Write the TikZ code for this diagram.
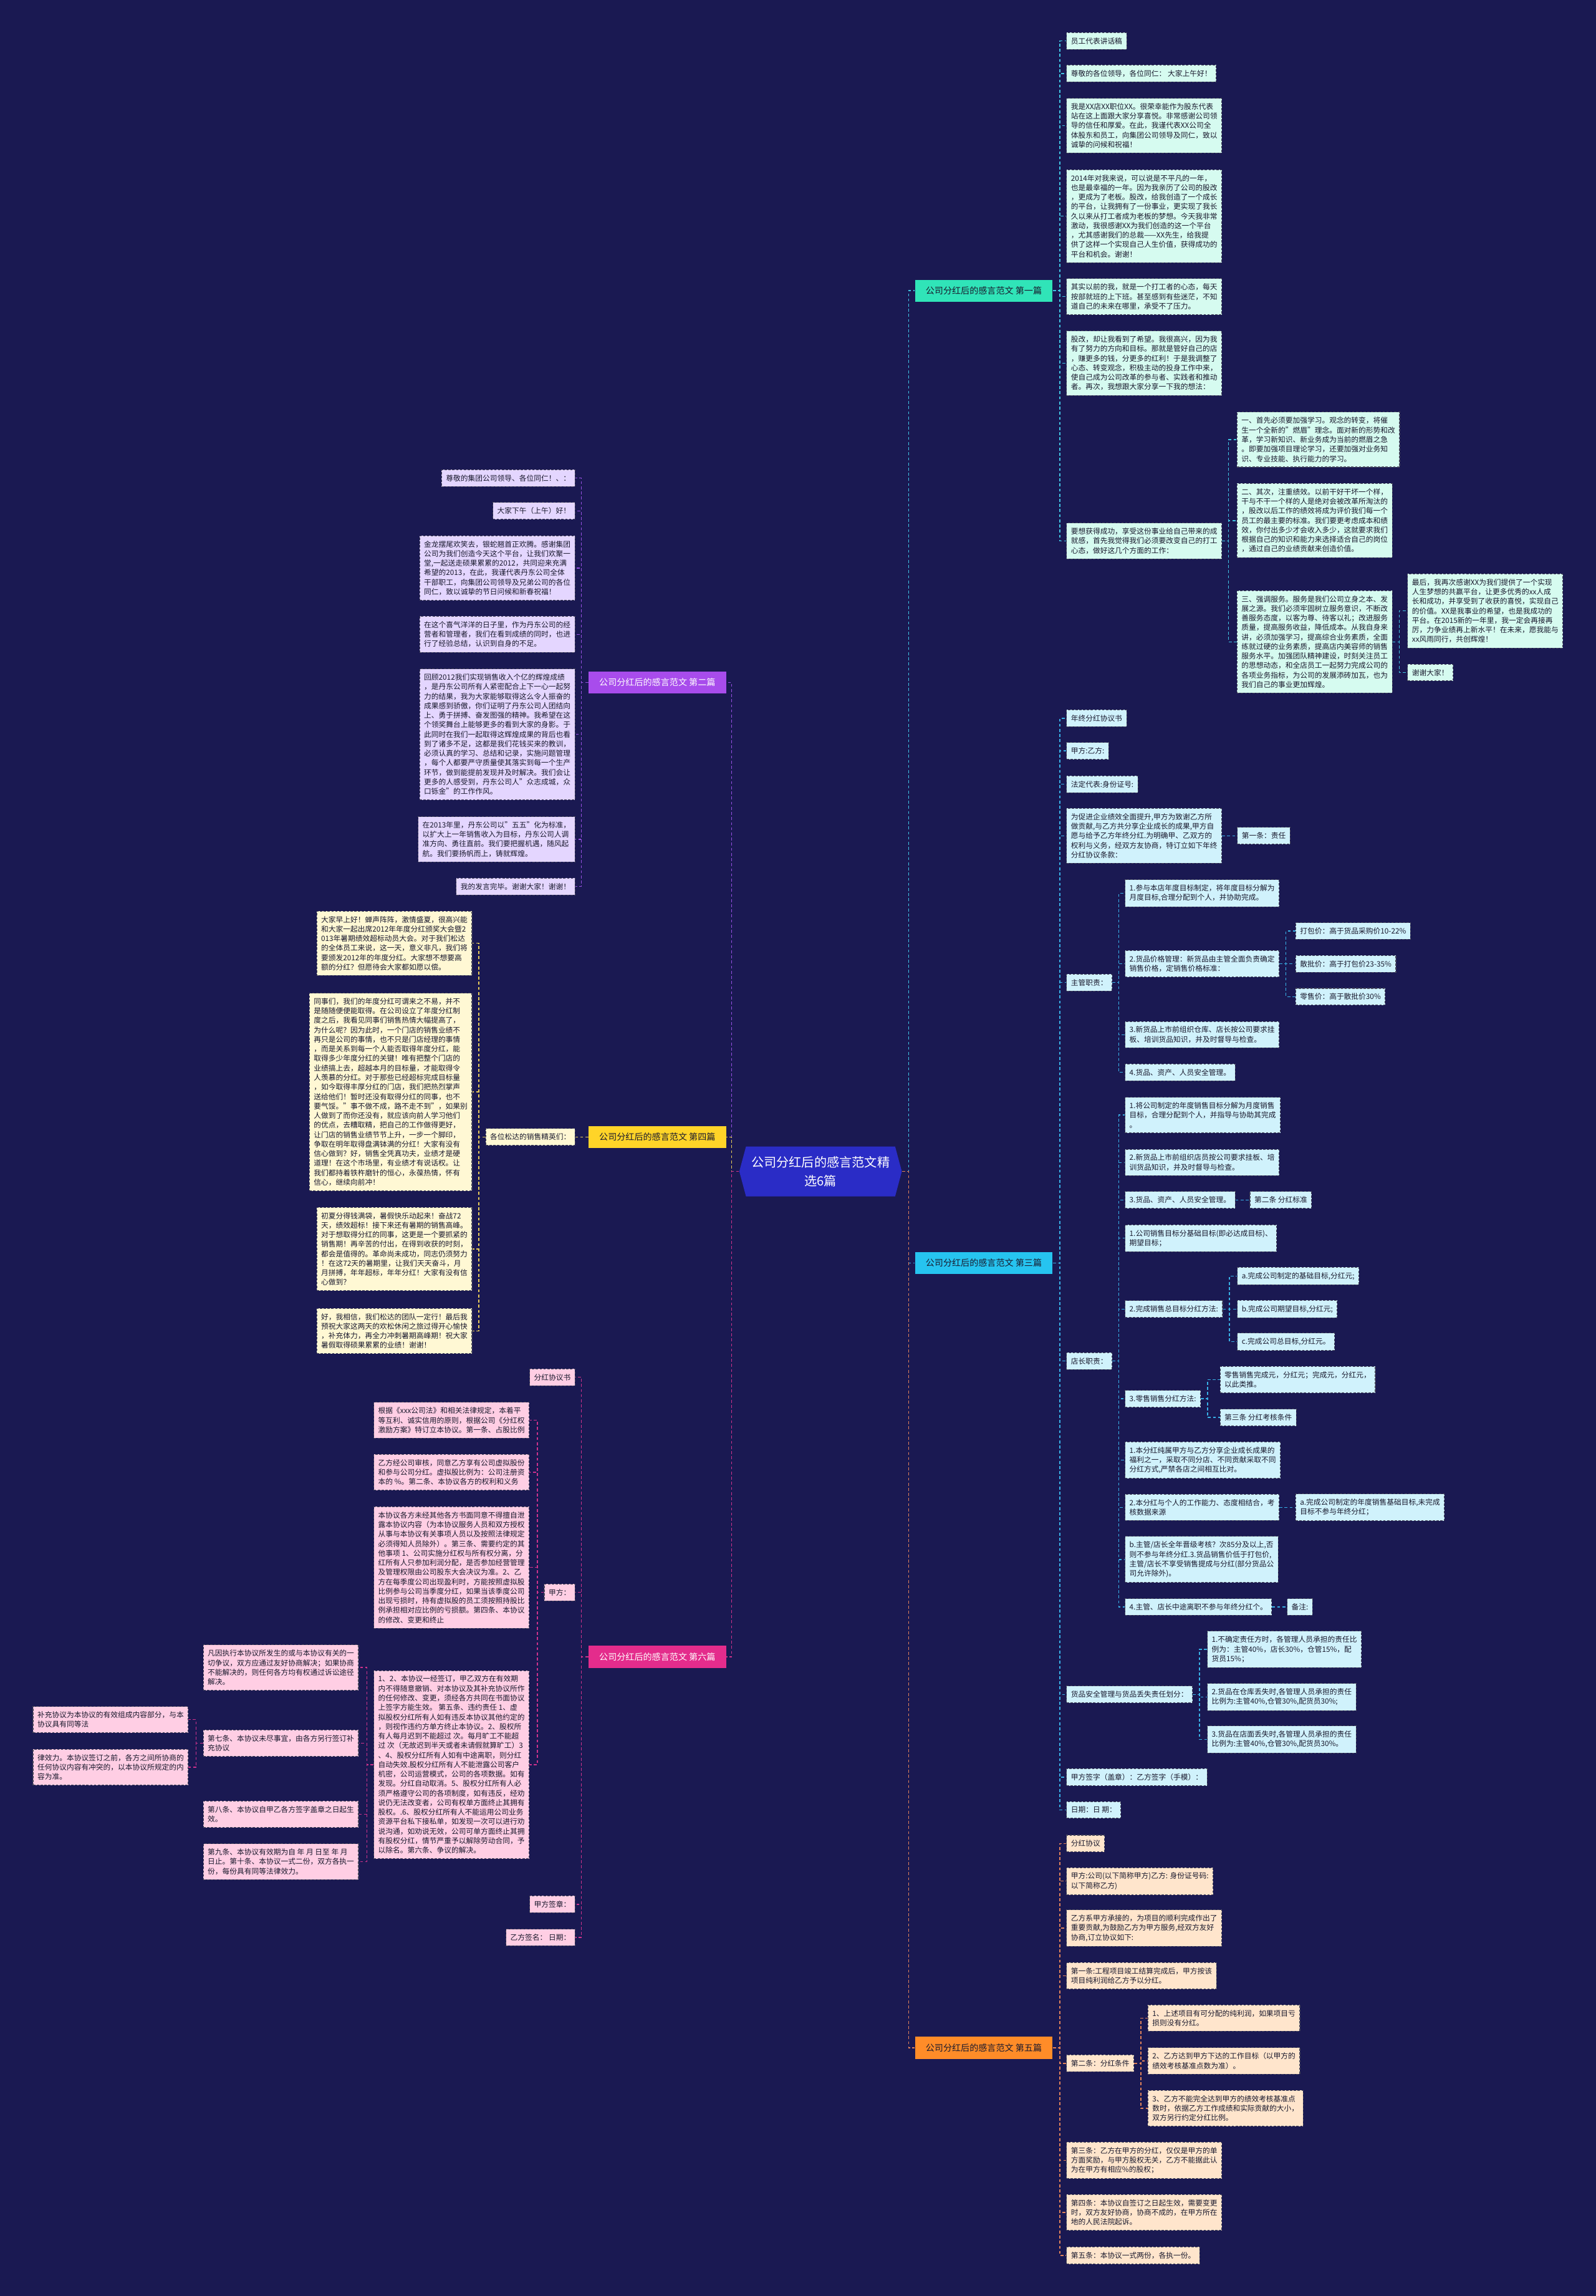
\documentclass[tikz,border=0pt]{standalone}
\usepackage{fontspec}
\setmainfont{Noto Sans CJK SC}
\usepackage{xcolor}
\usepackage{tikz}
\usetikzlibrary{positioning,shapes.symbols}
\definecolor{nightbg}{RGB}{26,25,82}
\definecolor{rootblue}{RGB}{42,44,198}
\definecolor{inkdark}{RGB}{25,25,45}
\definecolor{leafline}{RGB}{70,70,90}
\definecolor{mint}{RGB}{48,228,184}
\definecolor{mintlt}{RGB}{214,251,240}
\definecolor{mintline}{RGB}{64,196,226}
\definecolor{sky}{RGB}{38,196,240}
\definecolor{skylt}{RGB}{208,242,252}
\definecolor{skyline}{RGB}{56,176,230}
\definecolor{amber}{RGB}{255,140,40}
\definecolor{amberlt}{RGB}{255,229,204}
\definecolor{amberline}{RGB}{224,130,90}
\definecolor{violet}{RGB}{168,76,236}
\definecolor{violetlt}{RGB}{228,214,255}
\definecolor{violetline}{RGB}{150,80,225}
\definecolor{gold}{RGB}{255,212,40}
\definecolor{goldlt}{RGB}{255,248,212}
\definecolor{goldline}{RGB}{232,204,90}
\definecolor{rose}{RGB}{228,44,140}
\definecolor{roselt}{RGB}{255,206,228}
\definecolor{roseline}{RGB}{205,50,140}

\begin{document}
\begin{tikzpicture}[x=1pt, y=-1pt,
    leaf/.style={draw=leafline, dash pattern=on 1.6pt off 1pt, line width=0.45pt,
                 fill=#1, text=inkdark, font=\fontsize{5}{6.5}\selectfont,
                 align=left, inner xsep=3pt, inner ysep=3.4pt},
    rleaf/.style={leaf=#1, anchor=west},
    lleaf/.style={leaf=#1, anchor=east},
    branch/.style={fill=#1, font=\fontsize{6}{7}\selectfont,
                 minimum width=94pt, minimum height=15pt, inner sep=1pt},
    hub/.style={shape=signal, signal to=west and east, signal pointer angle=150,
                 fill=rootblue, text=white, font=\fontsize{8.6}{12.5}\selectfont,
                 align=center, minimum width=111pt, minimum height=34pt, inner sep=1pt},
    link/.style={draw=#1, dash pattern=on 2pt off 1.5pt, line width=0.6pt}
  ]
  \fill[nightbg] (0,0) rectangle (1090,1568);

  \node[hub] (root) at (560.5,800) {公司分红后的感言范文精\\选6篇};

  \node[branch=mint, text=inkdark] (p1) at (672,198.5) {公司分红后的感言范文 第一篇};
  \node[branch=violet, text=white] (p2) at (449,466) {公司分红后的感言范文 第二篇};
  \node[branch=sky, text=inkdark] (p3) at (672,862.5) {公司分红后的感言范文 第三篇};
  \node[branch=gold, text=inkdark] (p4) at (449,776.5) {公司分红后的感言范文 第四篇};
  \node[branch=amber, text=inkdark] (p5) at (672,1398.5) {公司分红后的感言范文 第五篇};
  \node[branch=rose, text=white] (p6) at (449,1131.5) {公司分红后的感言范文 第六篇};

  % 第一篇
  \node[rleaf=mintlt] (p1a) at (728.3,28) {员工代表讲话稿};
  \node[rleaf=mintlt] (p1b) at (728.3,50.2) {尊敬的各位领导，各位同仁： 大家上午好！};
  \node[rleaf=mintlt] (p1c) at (728.3,85.8) {我是XX店XX职位XX。很荣幸能作为股东代表\\站在这上面跟大家分享喜悦。非常感谢公司领\\导的信任和厚爱。在此，我谨代表XX公司全\\体股东和员工，向集团公司领导及同仁，致以\\诚挚的问候和祝福！};
  \node[rleaf=mintlt] (p1d) at (728.3,147.6) {2014年对我来说，可以说是不平凡的一年，\\也是最幸福的一年。因为我亲历了公司的股改\\，更成为了老板。股改，给我创造了一个成长\\的平台，让我拥有了一份事业，更实现了我长\\久以来从打工者成为老板的梦想。今天我非常\\激动，我很感谢XX为我们创造的这一个平台\\，尤其感谢我们的总裁——XX先生，给我提\\供了这样一个实现自己人生价值，获得成功的\\平台和机会。谢谢！};
  \node[rleaf=mintlt] (p1e) at (728.3,202.6) {其实以前的我，就是一个打工者的心态，每天\\按部就班的上下班。甚至感到有些迷茫，不知\\道自己的未来在哪里，承受不了压力。};
  \node[rleaf=mintlt] (p1f) at (728.3,248) {股改，却让我看到了希望。我很高兴，因为我\\有了努力的方向和目标。那就是管好自己的店\\，赚更多的钱，分更多的红利！于是我调整了\\心态、转变观念，积极主动的投身工作中来，\\使自己成为公司改革的参与者、实践者和推动\\者。再次，我想跟大家分享一下我的想法：};
  \node[rleaf=mintlt] (p1g) at (728.3,369.4) {要想获得成功，享受这份事业给自己带来的成\\就感，首先我觉得我们必须要改变自己的打工\\心态，做好这几个方面的工作：};
  \node[rleaf=mintlt] (p1g1) at (844.8,300.2) {一、首先必须要加强学习。观念的转变，将催\\生一个全新的"燃眉"理念。面对新的形势和改\\革，学习新知识、新业务成为当前的燃眉之急\\。即要加强项目理论学习，还要加强对业务知\\识、专业技能、执行能力的学习。};
  \node[rleaf=mintlt] (p1g2) at (844.8,355.5) {二、其次，注重绩效。以前干好干坏一个样，\\干与不干一个样的人是绝对会被改革所淘汰的\\，股改以后工作的绩效将成为评价我们每一个\\员工的最主要的标准。我们要更考虑成本和绩\\效，你付出多少才会收入多少，这就要求我们\\根据自己的知识和能力来选择适合自己的岗位\\，通过自己的业绩贡献来创造价值。};
  \node[rleaf=mintlt] (p1g3) at (844.8,438.3) {三、强调服务。服务是我们公司立身之本、发\\展之源。我们必须牢固树立服务意识，不断改\\善服务态度，以客为尊、待客以礼；改进服务\\质量，提高服务收益，降低成本。从我自身来\\讲，必须加强学习，提高综合业务素质，全面\\练就过硬的业务素质，提高店内美容师的销售\\服务水平。加强团队精神建设，时刻关注员工\\的思想动态，和全店员工一起努力完成公司的\\各项业务指标，为公司的发展添砖加瓦，也为\\我们自己的事业更加辉煌。};
  \node[rleaf=mintlt] (p1g3a) at (961.3,417.2) {最后，我再次感谢XX为我们提供了一个实现\\人生梦想的共赢平台，让更多优秀的xx人成\\长和成功，并享受到了收获的喜悦，实现自己\\的价值。XX是我事业的希望，也是我成功的\\平台。在2015新的一年里，我一定会再接再\\厉，力争业绩再上新水平！在未来，愿我能与\\xx风雨同行，共创辉煌！};
  \node[rleaf=mintlt] (p1g3b) at (961.3,459.3) {谢谢大家！};

  % 第三篇
  \node[rleaf=skylt] (p3a) at (728.3,490.5) {年终分红协议书};
  \node[rleaf=skylt] (p3b) at (728.3,512.8) {甲方:乙方:};
  \node[rleaf=skylt] (p3c) at (728.3,535.6) {法定代表:身份证号:};
  \node[rleaf=skylt] (p3d) at (728.3,570.8) {为促进企业绩效全面提升,甲方为致谢乙方所\\做贡献,与乙方共分享企业成长的成果,甲方自\\愿与给予乙方年终分红.为明确甲、乙双方的\\权利与义务，经双方友协商，特订立如下年终\\分红协议条款：};
  \node[rleaf=skylt] (p3d1) at (845,570.8) {第一条：责任};
  \node[rleaf=skylt] (p3e) at (728.3,671) {主管职责：};
  \node[rleaf=skylt] (p3e1) at (768.3,610) {1.参与本店年度目标制定，将年度目标分解为\\月度目标,合理分配到个人，并协助完成。};
  \node[rleaf=skylt] (p3e2) at (768.3,658.1) {2.货品价格管理：新货品由主管全面负责确定\\销售价格，定销售价格标准：};
  \node[rleaf=skylt] (p3e2a) at (884.8,635.8) {打包价：高于货品采购价10-22\%};
  \node[rleaf=skylt] (p3e2b) at (884.8,658.2) {散批价：高于打包价23-35\%};
  \node[rleaf=skylt] (p3e2c) at (884.8,680.7) {零售价：高于散批价30\%};
  \node[rleaf=skylt] (p3e3) at (768.3,706.6) {3.新货品上市前组织仓库、店长按公司要求挂\\板、培训货品知识，并及时督导与检查。};
  \node[rleaf=skylt] (p3e4) at (768.3,732.3) {4.货品、资产、人员安全管理。};
  \node[rleaf=skylt] (p3f) at (728.3,929.5) {店长职责：};
  \node[rleaf=skylt] (p3f1) at (768.3,761.5) {1.将公司制定的年度销售目标分解为月度销售\\目标，合理分配到个人，并指导与协助其完成\\。};
  \node[rleaf=skylt] (p3f2) at (768.3,793.9) {2.新货品上市前组织店员按公司要求挂板、培\\训货品知识，并及时督导与检查。};
  \node[rleaf=skylt] (p3f3) at (768.3,819.5) {3.货品、资产、人员安全管理。};
  \node[rleaf=skylt] (p3f3a) at (853.6,819.5) {第二条 分红标准};
  \node[rleaf=skylt] (p3f4) at (768.3,845.6) {1.公司销售目标分基础目标(即必达成目标)、\\期望目标；};
  \node[rleaf=skylt] (p3f5) at (768.3,894) {2.完成销售总目标分红方法:};
  \node[rleaf=skylt] (p3f5a) at (845,871.4) {a.完成公司制定的基础目标,分红元;};
  \node[rleaf=skylt] (p3f5b) at (845,894) {b.完成公司期望目标,分红元;};
  \node[rleaf=skylt] (p3f5c) at (845,916.3) {c.完成公司总目标,分红元。};
  \node[rleaf=skylt] (p3f6) at (768.3,955.2) {3.零售销售分红方法:};
  \node[rleaf=skylt] (p3f6a) at (833.2,942.2) {零售销售完成元，分红元；完成元，分红元，\\以此类推。};
  \node[rleaf=skylt] (p3f6b) at (833.2,968) {第三条 分红考核条件};
  \node[rleaf=skylt] (p3f7) at (768.3,997.1) {1.本分红纯属甲方与乙方分享企业成长成果的\\福利之一，采取不同分店、不同贡献采取不同\\分红方式,严禁各店之间相互比对。};
  \node[rleaf=skylt] (p3f8) at (768.3,1029.4) {2.本分红与个人的工作能力、态度相结合，考\\核数据来源};
  \node[rleaf=skylt] (p3f8a) at (884.8,1029.4) {a.完成公司制定的年度销售基础目标,未完成\\目标不参与年终分红；};
  \node[rleaf=skylt] (p3f9) at (768.3,1065) {b.主管/店长全年晋级考核？次85分及以上,否\\则不参与年终分红.3.货品销售价低于打包价,\\主管/店长不享受销售提成与分红(部分货品公\\司允许除外)。};
  \node[rleaf=skylt] (p3f10) at (768.3,1097.4) {4.主管、店长中途离职不参与年终分红个。};
  \node[rleaf=skylt] (p3f10a) at (879,1097.4) {备注:};
  \node[rleaf=skylt] (p3g) at (728.3,1157.2) {货品安全管理与货品丢失责任划分：};
  \node[rleaf=skylt] (p3g1) at (824.5,1126.4) {1.不确定责任方时，各管理人员承担的责任比\\例为：主管40\%，店长30\%，仓管15\%，配\\货员15\%；};
  \node[rleaf=skylt] (p3g2) at (824.5,1158.9) {2.货品在仓库丢失时,各管理人员承担的责任\\比例为:主管40\%,仓管30\%,配货员30\%;};
  \node[rleaf=skylt] (p3g3) at (824.5,1187.9) {3.货品在店面丢失时,各管理人员承担的责任\\比例为:主管40\%,仓管30\%,配货员30\%。};
  \node[rleaf=skylt] (p3h) at (728.3,1213.7) {甲方签字（盖章）：乙方签字（手模）：};
  \node[rleaf=skylt] (p3i) at (728.3,1236) {日期：日 期：};

  % 第五篇
  \node[rleaf=amberlt] (p5a) at (728.3,1259) {分红协议};
  \node[rleaf=amberlt] (p5b) at (728.3,1284.7) {甲方:公司(以下简称甲方)乙方: 身份证号码:\\以下简称乙方)};
  \node[rleaf=amberlt] (p5c) at (728.3,1316.7) {乙方系甲方承接的，为项目的顺利完成作出了\\重要贡献,为鼓励乙方为甲方服务,经双方友好\\协商,订立协议如下:};
  \node[rleaf=amberlt] (p5d) at (728.3,1349.3) {第一条:工程项目竣工结算完成后，甲方按该\\项目纯利润给乙方予以分红。};
  \node[rleaf=amberlt] (p5e) at (728.3,1409.1) {第二条：分红条件};
  \node[rleaf=amberlt] (p5e1) at (783.9,1378.2) {1、上述项目有可分配的纯利润，如果项目亏\\损则没有分红。};
  \node[rleaf=amberlt] (p5e2) at (783.9,1407.4) {2、乙方达到甲方下达的工作目标（以甲方的\\绩效考核基准点数为准）。};
  \node[rleaf=amberlt] (p5e3) at (783.9,1439.8) {3、乙方不能完全达到甲方的绩效考核基准点\\数时，依据乙方工作成绩和实际贡献的大小，\\双方另行约定分红比例。};
  \node[rleaf=amberlt] (p5f) at (728.3,1475.3) {第三条：乙方在甲方的分红，仅仅是甲方的单\\方面奖励，与甲方股权无关，乙方不能据此认\\为在甲方有相应\%的股权；};
  \node[rleaf=amberlt] (p5g) at (728.3,1511) {第四条：本协议自签订之日起生效，需要变更\\时，双方友好协商，协商不成的，在甲方所在\\地的人民法院起诉。};
  \node[rleaf=amberlt] (p5h) at (728.3,1540.3) {第五条：本协议一式两份，各执一份。};

  % 第二篇
  \node[lleaf=violetlt] (p2a) at (392.9,326.5) {尊敬的集团公司领导、各位同仁！、：};
  \node[lleaf=violetlt] (p2b) at (392.9,348.9) {大家下午（上午）好！};
  \node[lleaf=violetlt] (p2c) at (392.9,387.9) {金龙摆尾欢笑去，银蛇翘首正欢腾。感谢集团\\公司为我们创造今天这个平台，让我们欢聚一\\堂,一起送走硕果累累的2012，共同迎来充满\\希望的2013，在此，我谨代表丹东公司全体\\干部职工，向集团公司领导及兄弟公司的各位\\同仁，致以诚挚的节日问候和新春祝福！};
  \node[lleaf=violetlt] (p2d) at (392.9,433.2) {在这个喜气洋洋的日子里，作为丹东公司的经\\营者和管理者，我们在看到成绩的同时，也进\\行了经验总结，认识到自身的不足。};
  \node[lleaf=violetlt] (p2e) at (392.9,501.5) {回顾2012我们实现销售收入个亿的辉煌成绩\\，是丹东公司所有人紧密配合上下一心一起努\\力的结果，我为大家能够取得这么令人振奋的\\成果感到骄傲，你们证明了丹东公司人团结向\\上、勇于拼搏、奋发图强的精神。我希望在这\\个领奖舞台上能够更多的看到大家的身影。于\\此同时在我们一起取得这辉煌成果的背后也看\\到了诸多不足，这都是我们花钱买来的教训，\\必须认真的学习、总结和记录，实施问题管理\\，每个人都要严守质量使其落实到每一个生产\\环节，做到能提前发现并及时解决。我们会让\\更多的人感受到，丹东公司人"众志成城，众\\口铄金"的工作作风。};
  \node[lleaf=violetlt] (p2f) at (392.9,573.2) {在2013年里，丹东公司以"五五"化为标准，\\以扩大上一年销售收入为目标，丹东公司人调\\准方向、勇往直前。我们要把握机遇，随风起\\航。我们要扬帆而上，铸就辉煌。};
  \node[lleaf=violetlt] (p2g) at (392.9,605.4) {我的发言完毕。谢谢大家！谢谢！};

  % 第四篇
  \node[lleaf=goldlt] (p4a) at (393,776.5) {各位松达的销售精英们：};
  \node[lleaf=goldlt] (p4a1) at (322.6,644.2) {大家早上好！蝉声阵阵，激情盛夏，很高兴能\\和大家一起出席2012年年度分红颁奖大会暨2\\013年暑期绩效超标动员大会。对于我们松达\\的全体员工来说，这一天，意义非凡，我们将\\要颁发2012年的年度分红。大家想不想要高\\额的分红？但愿待会大家都如愿以偿。};
  \node[lleaf=goldlt] (p4a2) at (322.6,745.7) {同事们，我们的年度分红可谓来之不易，并不\\是随随便便能取得。在公司设立了年度分红制\\度之后，我看见同事们销售热情大幅提高了，\\为什么呢？因为此时，一个门店的销售业绩不\\再只是公司的事情，也不只是门店经理的事情\\，而是关系到每一个人能否取得年度分红，能\\取得多少年度分红的关键！唯有把整个门店的\\业绩搞上去，超越本月的目标量，才能取得令\\人羡慕的分红。对于那些已经超标完成目标量\\，如今取得丰厚分红的门店，我们把热烈掌声\\送给他们！暂时还没有取得分红的同事，也不\\要气馁。"事不做不成，路不走不到"，如果别\\人做到了而你还没有，就应该向前人学习他们\\的优点，去糟取精，把自己的工作做得更好，\\让门店的销售业绩节节上升，一步一个脚印，\\争取在明年取得盘满钵满的分红！大家有没有\\信心做到？好，销售全凭真功夫，业绩才是硬\\道理！在这个市场里，有业绩才有说话权。让\\我们都持着铁杵磨针的恒心，永葆热情，怀有\\信心，继续向前冲！};
  \node[lleaf=goldlt] (p4a3) at (322.6,853) {初夏分得钱满袋，暑假快乐动起来！奋战72\\天，绩效超标！接下来还有暑期的销售高峰。\\对于想取得分红的同事，这更是一个要抓紧的\\销售期！再辛苦的付出，在得到收获的时刻，\\都会是值得的。革命尚未成功，同志仍须努力\\！在这72天的暑期里，让我们天天奋斗，月\\月拼搏，年年超标，年年分红！大家有没有信\\心做到？};
  \node[lleaf=goldlt] (p4a4) at (322.6,909) {好，我相信，我们松达的团队一定行！最后我\\预祝大家这两天的欢松休闲之旅过得开心愉快\\，补充体力，再全力冲刺暑期高峰期！祝大家\\暑假取得硕果累累的业绩！谢谢！};

  % 第六篇
  \node[lleaf=roselt] (p6a) at (393,940.6) {分红协议书};
  \node[lleaf=roselt] (p6b) at (393,1087.5) {甲方：};
  \node[lleaf=roselt] (p6b1) at (361.6,969.9) {根据《xxx公司法》和相关法律规定，本着平\\等互利、诚实信用的原则，根据公司《分红权\\激励方案》特订立本协议。第一条、占股比例};
  \node[lleaf=roselt] (p6b2) at (361.6,1005.5) {乙方经公司审核，同意乙方享有公司虚拟股份\\和参与公司分红。虚拟股比例为：公司注册资\\本的 \%。第二条、本协议各方的权利和义务};
  \node[lleaf=roselt] (p6b3) at (361.6,1070.5) {本协议各方未经其他各方书面同意不得擅自泄\\露本协议内容（为本协议服务人员和双方授权\\从事与本协议有关事项人员以及按照法律规定\\必须得知人员除外）。第三条、需要约定的其\\他事项 1、公司实施分红权与所有权分离，分\\红所有人只参加利润分配，是否参加经营管理\\及管理权限由公司股东大会决议为准。2、乙\\方在每季度公司出现盈利时，方能按照虚拟股\\比例参与公司当季度分红，如果当该季度公司\\出现亏损时，持有虚拟股的员工须按照持股比\\例承担相对应比例的亏损额。第四条、本协议\\的修改、变更和终止};
  \node[lleaf=roselt] (p6b4) at (361.6,1205.1) {1、2、本协议一经签订，甲乙双方在有效期\\内不得随意撤销、对本协议及其补充协议所作\\的任何修改、变更，须经各方共同在书面协议\\上签字方能生效。 第五条、违约责任 1、虚\\拟股权分红所有人如有违反本协议其他约定的\\，则视作违约方单方终止本协议。2、股权所\\有人每月迟到不能超过 次。每月旷工不能超\\过 次（无故迟到半天或者未请假就算旷工）3\\、4、股权分红所有人如有中途离职，则分红\\自动失效.股权分红所有人不能泄露公司客户\\机密，公司运营模式，公司的各项数据。如有\\发现。分红自动取消。5、股权分红所有人必\\须严格遵守公司的各项制度，如有违反，经劝\\说仍无法改变者，公司有权单方面终止其拥有\\股权。.6、股权分红所有人不能运用公司业务\\资源平台私下接私单，如发现一次可以进行劝\\说沟通，如劝说无效，公司可单方面终止其拥\\有股权分红，情节严重予以解除劳动合同，予\\以除名。第六条、争议的解决。};
  \node[lleaf=roselt] (p6c1) at (245.1,1138.8) {凡因执行本协议所发生的或与本协议有关的一\\切争议，双方应通过友好协商解决；如果协商\\不能解决的，则任何各方均有权通过诉讼途径\\解决。};
  \node[lleaf=roselt] (p6c2) at (245.1,1190.5) {第七条、本协议未尽事宜，由各方另行签订补\\充协议};
  \node[lleaf=roselt] (p6c3) at (245.1,1239) {第八条、本协议自甲乙各方签字盖章之日起生\\效。};
  \node[lleaf=roselt] (p6c4) at (245.1,1271.4) {第九条、本协议有效期为自 年 月 日至 年 月\\日止。第十条、本协议一式二份，双方各执一\\份，每份具有同等法律效力。};
  \node[lleaf=roselt] (p6d1) at (128.8,1174.4) {补充协议为本协议的有效组成内容部分，与本\\协议具有同等法};
  \node[lleaf=roselt] (p6d2) at (128.8,1206.8) {律效力。本协议签订之前，各方之间所协商的\\任何协议内容有冲突的，以本协议所规定的内\\容为准。};
  \node[lleaf=roselt] (p6e) at (393,1300.5) {甲方签章：};
  \node[lleaf=roselt] (p6f) at (393,1323.1) {乙方签名： 日期：};

  % connectors
  \draw[link=mintline] (root.east) -- ++(4.4,0) |- (p1.west);
  \draw[link=skyline] (root.east) -- ++(4.4,0) |- (p3.west);
  \draw[link=amberline] (root.east) -- ++(4.4,0) |- (p5.west);
  \draw[link=violetline] (root.west) -- ++(-5,0) |- (p2.east);
  \draw[link=goldline] (root.west) -- ++(-5,0) |- (p4.east);
  \draw[link=roseline] (root.west) -- ++(-5,0) |- (p6.east);

  \foreach \c in {p1a,p1b,p1c,p1d,p1e,p1f,p1g}
    \draw[link=mintline] (p1.east) -- ++(4.8,0) |- (\c.west);
  \foreach \c in {p1g1,p1g2,p1g3}
    \draw[link=mintline] (p1g.east) -- ++(4.5,0) |- (\c.west);
  \foreach \c in {p1g3a,p1g3b}
    \draw[link=mintline] (p1g3.east) -- ++(4.5,0) |- (\c.west);

  \foreach \c in {p3a,p3b,p3c,p3d,p3e,p3f,p3g,p3h,p3i}
    \draw[link=skyline] (p3.east) -- ++(4.8,0) |- (\c.west);
  \draw[link=skyline] (p3d.east) -- (p3d1.west);
  \foreach \c in {p3e1,p3e2,p3e3,p3e4}
    \draw[link=skyline] (p3e.east) -- ++(4.5,0) |- (\c.west);
  \foreach \c in {p3e2a,p3e2b,p3e2c}
    \draw[link=skyline] (p3e2.east) -- ++(4.5,0) |- (\c.west);
  \foreach \c in {p3f1,p3f2,p3f3,p3f4,p3f5,p3f6,p3f7,p3f8,p3f9,p3f10}
    \draw[link=skyline] (p3f.east) -- ++(4.5,0) |- (\c.west);
  \draw[link=skyline] (p3f3.east) -- (p3f3a.west);
  \foreach \c in {p3f5a,p3f5b,p3f5c}
    \draw[link=skyline] (p3f5.east) -- ++(4.5,0) |- (\c.west);
  \foreach \c in {p3f6a,p3f6b}
    \draw[link=skyline] (p3f6.east) -- ++(4.5,0) |- (\c.west);
  \draw[link=skyline] (p3f8.east) -- (p3f8a.west);
  \draw[link=skyline] (p3f10.east) -- (p3f10a.west);
  \foreach \c in {p3g1,p3g2,p3g3}
    \draw[link=skyline] (p3g.east) -- ++(4.5,0) |- (\c.west);

  \foreach \c in {p5a,p5b,p5c,p5d,p5e,p5f,p5g,p5h}
    \draw[link=amberline] (p5.east) -- ++(4.8,0) |- (\c.west);
  \foreach \c in {p5e1,p5e2,p5e3}
    \draw[link=amberline] (p5e.east) -- ++(4.5,0) |- (\c.west);

  \foreach \c in {p2a,p2b,p2c,p2d,p2e,p2f,p2g}
    \draw[link=violetline] (p2.west) -- ++(-4.6,0) |- (\c.east);

  \draw[link=goldline] (p4.west) -- (p4a.east);
  \foreach \c in {p4a1,p4a2,p4a3,p4a4}
    \draw[link=goldline] (p4a.west) -- ++(-4.5,0) |- (\c.east);

  \foreach \c in {p6a,p6b,p6e,p6f}
    \draw[link=roseline] (p6.west) -- ++(-4.6,0) |- (\c.east);
  \foreach \c in {p6b1,p6b2,p6b3,p6b4}
    \draw[link=roseline] (p6b.west) -- ++(-4.5,0) |- (\c.east);
  \foreach \c in {p6c1,p6c2,p6c3,p6c4}
    \draw[link=roseline] (p6b4.west) -- ++(-4.6,0) |- (\c.east);
  \foreach \c in {p6d1,p6d2}
    \draw[link=roseline] (p6c2.west) -- ++(-4.6,0) |- (\c.east);
\end{tikzpicture}
\end{document}
